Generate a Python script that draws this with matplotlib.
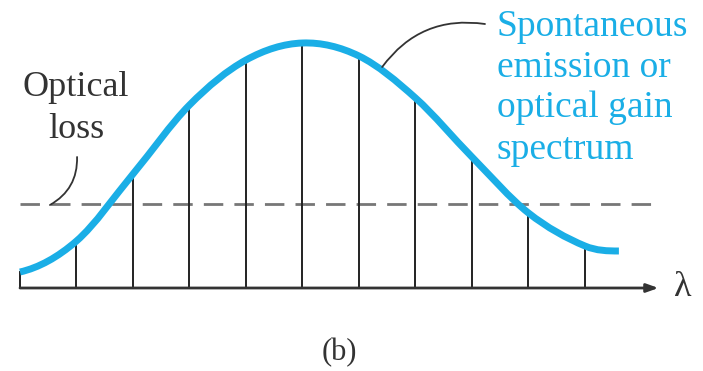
import numpy as np
import matplotlib.pyplot as plt
from matplotlib.path import Path
from matplotlib.patches import PathPatch

# gain spectrum sampled at the mode positions (arbitrary units)
position = [0, 1, 2, 3, 4, 5, 6, 7, 8, 9, 10, 10.6]
gain = [16, 47, 114, 183, 228, 245, 232, 190, 131, 75, 42, 37]
modes = [0, 1, 2, 3, 4, 5, 6, 7, 8, 9, 10]
loss = 84

label_loss = ['Optical', 'loss']
label_gain = ['Spontaneous', 'emission or', 'optical gain', 'spectrum']

blue = '#1aaee6'
ink = '#333333'


def smooth_path(x, y):
    # cubic through the samples (centred tangents, clipped so nothing overshoots)
    x = np.asarray(x, float)
    y = np.asarray(y, float)
    h = np.diff(x)
    d = np.diff(y) / h
    m = np.zeros_like(y)
    for i in range(1, len(y) - 1):
        c = (y[i + 1] - y[i - 1]) / (x[i + 1] - x[i - 1])
        if d[i - 1] * d[i] > 0:
            lim = 3 * min(abs(d[i - 1]), abs(d[i]))
            c = np.sign(c) * min(abs(c), lim)
        m[i] = c
    m0 = ((2 * h[0] + h[1]) * d[0] - h[0] * d[1]) / (h[0] + h[1])
    m[0] = m0 if m0 * d[0] > 0 else 0
    mn = ((2 * h[-1] + h[-2]) * d[-1] - h[-1] * d[-2]) / (h[-1] + h[-2])
    m[-1] = mn if mn * d[-1] > 0 else 0

    verts = [(x[0], y[0])]
    codes = [Path.MOVETO]
    for i in range(len(x) - 1):
        verts += [(x[i] + h[i] / 3, y[i] + m[i] * h[i] / 3),
                  (x[i + 1] - h[i] / 3, y[i + 1] - m[i + 1] * h[i] / 3),
                  (x[i + 1], y[i + 1])]
        codes += [Path.CURVE4] * 3
    return Path(verts, codes)


plt.rcParams['font.family'] = ['Liberation Serif', 'DejaVu Serif']

fig = plt.figure(figsize=(7.03, 3.71), dpi=100)
ax = fig.add_axes([0, 0, 1, 1])
ax.set_xlim(-20 / 56.5, 683 / 56.5)
ax.set_ylim(-83, 288)
ax.axis('off')

# longitudinal modes
for m in modes:
    top = gain[position.index(m)]
    ax.plot([m, m], [0, top], color='#222222', lw=1.4, zorder=2)

# optical loss level
ax.plot([0, 11.2], [loss, loss], color='#777777', lw=2, ls=(0, (7, 4)), zorder=1)

# wavelength axis
ax.annotate('', xy=(11.3, 0), xytext=(0, 0),
            arrowprops=dict(arrowstyle='-|>,head_length=0.7,head_width=0.25',
                            color='#333333', lw=2, shrinkA=0, shrinkB=0))
ax.text(11.73, 0, 'λ', fontsize=26, color=ink, ha='center', va='center')

# spectrum curve
ax.add_patch(PathPatch(smooth_path(position, gain), fill=False,
                       edgecolor=blue, lw=5, capstyle='butt', zorder=3))

# labels and leaders
ax.text(0.99, 200, label_loss[0], fontsize=26, color=ink, ha='center', va='center')
ax.text(0.99, 158, label_loss[1], fontsize=26, color=ink, ha='center', va='center')
ax.annotate('', xy=(0.53, 83), xytext=(1.01, 131),
            arrowprops=dict(arrowstyle='-', color=ink, lw=1.3,
                            connectionstyle='arc3,rad=-0.3', shrinkA=0, shrinkB=0))

for text, yy in zip(label_gain, [261, 220, 180, 138]):
    ax.text(8.44, yy, text, fontsize=27, color=blue, ha='left', va='center')
ax.annotate('', xy=(6.41, 221), xytext=(8.23, 264),
            arrowprops=dict(arrowstyle='-', color=ink, lw=1.3,
                            connectionstyle='arc3,rad=0.3', shrinkA=0, shrinkB=0))

ax.text(5.66, -65, '(b)', fontsize=22, color=ink, ha='center', va='center')

plt.savefig('out.png', dpi=100)
